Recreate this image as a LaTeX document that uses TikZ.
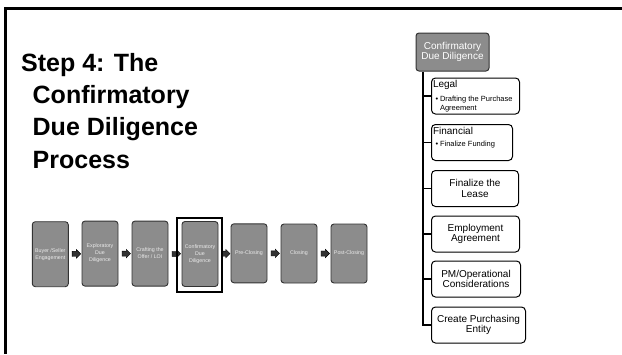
\documentclass[tikz,border=0pt]{standalone}
\usepackage{fontspec}
\setmainfont{Liberation Sans}
\usetikzlibrary{shapes.arrows,calc}
\definecolor{stepgray}{HTML}{8C8C8C}
\definecolor{edgegray}{HTML}{333333}
\begin{document}
\begin{tikzpicture}[x=1pt,y=-1pt,
  stagebox/.style={draw=edgegray, fill=stepgray, line width=0.9pt, rounded corners=3pt,
    minimum width=36pt, align=center, inner sep=1pt,
    font=\fontsize{5.3}{7}\selectfont, text=white!92!black},
  tallstage/.style={stagebox, minimum height=65pt},
  shortstage/.style={stagebox, minimum height=59pt},
  flowarrow/.style={single arrow, draw=black, fill=edgegray, line width=0.4pt,
    minimum height=8.5pt, minimum width=8.5pt, inner xsep=0pt, inner ysep=2.2pt,
    single arrow head extend=1.6pt},
  focusframe/.style={draw=black, line width=2pt, inner sep=0pt},
  topbox/.style={draw=edgegray, fill=stepgray, line width=1pt, rounded corners=3pt,
    minimum width=73pt, minimum height=38pt, align=center, inner sep=1pt,
    font=\fontsize{10}{10.5}\selectfont, text=white},
  taskbox/.style={draw=black, fill=white, line width=1pt, rounded corners=4pt,
    minimum height=36pt, align=center, inner sep=1pt,
    font=\fontsize{10}{10.5}\selectfont, anchor=west},
  headtext/.style={anchor=base west, inner sep=0pt, font=\fontsize{10}{11}\selectfont},
  bullettext/.style={anchor=base west, inner sep=0pt, align=left, font=\fontsize{7.5}{8.7}\selectfont},
  trunkline/.style={draw=black, line width=1.3pt},
  framerule/.style={draw=black, line width=2.5pt}
]
\useasboundingbox (0,0) rectangle (622,354);

% page frame
\draw[framerule] (622,8.3) -- (5.3,8.3) -- (5.3,354);

% title (anchored on the baseline of its last line)
\node[anchor=base west, align=left, inner sep=0pt,
      font=\fontsize{25}{32.1}\selectfont\bfseries] (title) at (21,168)
  {Step 4: The\\\hspace*{11.5pt}Confirmatory\\\hspace*{11.5pt}Due Diligence\\\hspace*{11.5pt}Process};

% process stages
\node[tallstage]  (s1) at (50.3,254.2) {Buyer /Seller\\Engagement};
\node[tallstage]  (s2) at (100,253.6) {Exploratory\\Due\\Diligence};
\node[tallstage]  (s3) at (150,253.6) {Crafting the\\Offer / LOI};
\node[tallstage]  (s4) at (200,254) {Confirmatory\\Due\\Diligence};
\node[shortstage] (s5) at (249,253.3) {Pre-Closing};
\node[shortstage] (s6) at (299,253.5) {Closing};
\node[shortstage] (s7) at (349,253.5) {Post-Closing};

\foreach \a/\b in {s1/s2,s2/s3,s3/s4,s4/s5,s5/s6,s6/s7}
  \node[flowarrow] (arr-\a) at ($(\a.east)!0.5!(\b.west)$) {};

% highlight around the current stage
\node[focusframe, minimum width=45pt, minimum height=74pt] (focus) at (199.7,254.8) {};

% breakdown of the confirmatory stage
\node[topbox] (top) at (452.5,52) {Confirmatory\\Due Diligence};

\node[taskbox, minimum width=88pt] (legal) at (431,96) {};
\node[taskbox, minimum width=81pt] (fin)   at (431,142.5) {};
\node[taskbox, minimum width=87pt] (lease) at (431,188.5) {Finalize the\\Lease};
\node[taskbox, minimum width=88pt] (emp)   at (431,234) {Employment\\Agreement};
\node[taskbox, minimum width=89pt] (pm)    at (431,279) {PM/Operational\\Considerations};
\node[taskbox, minimum width=94pt] (ent)   at (431,325) {Create Purchasing\\Entity};

\node[headtext] (legalhead) at ($(legal.north west)+(1.8,10.3)$) {Legal};
\node[bullettext] (legaldot) at ($(legal.north west)+(4.3,24.3)$) {\textbullet};
\node[bullettext] (legaltxt) at ($(legal.north west)+(8.8,33)$) {Drafting the Purchase\\Agreement};

\node[headtext] (finhead) at ($(fin.north west)+(1.8,10.3)$) {Financial};
\node[bullettext] (findot) at ($(fin.north west)+(4.3,22.7)$) {\textbullet};
\node[bullettext] (fintxt) at ($(fin.north west)+(8.8,22.7)$) {Finalize Funding};

% tree connectors
\coordinate (trunk) at ([xshift=7.5pt]top.south west);
\draw[trunkline] (trunk) |- (ent.west);
\foreach \c in {legal,fin,lease,emp,pm}
  \draw[trunkline] (trunk |- \c.west) -- (\c.west);
\end{tikzpicture}
\end{document}
